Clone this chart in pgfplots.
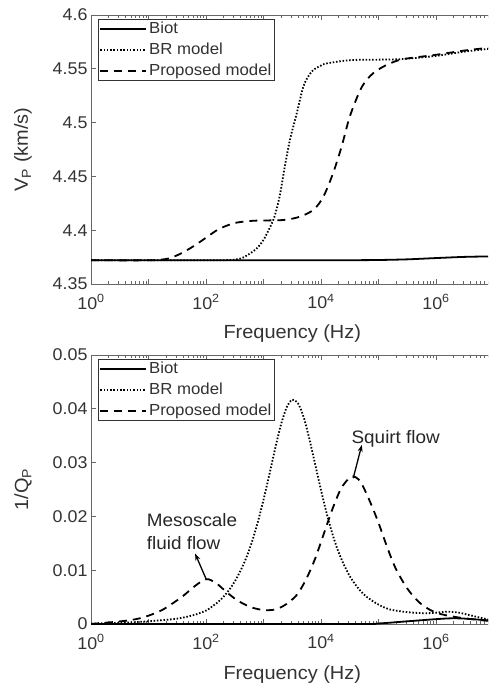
\documentclass[border=0pt]{standalone}
\usepackage{fontspec}
\setmainfont{Liberation Sans}[FakeStretch=1.05]
\usepackage{pgfplots}
\usepackage{pgfplotstable}
\pgfplotsset{compat=1.18}
\usetikzlibrary{arrows.meta}
\definecolor{txt}{gray}{0.2}
\definecolor{axc}{gray}{0.4}

% ---- Panel (a): V_P ----
\pgfplotstableread{
lf v
0 4.372
2 4.372
3 4.372
4 4.372
4.5 4.3721
5 4.3723
5.5 4.3729
6 4.3741
6.5 4.3752
7 4.3757
}\biotA
\pgfplotstableread{
lf v
0 4.372
1.5 4.372
2.3 4.3721
2.59 4.3735
2.77 4.3785
2.9 4.384
3.0 4.391
3.08 4.399
3.17 4.4095
3.23 4.420
3.29 4.434
3.37 4.459
3.46 4.484
3.58 4.509
3.69 4.533
3.78 4.543
3.87 4.549
4.0 4.553
4.1 4.555
4.5 4.558
5.0 4.5585
5.4 4.559
6.0 4.562
6.5 4.566
7.0 4.569
}\brA
\pgfplotstableread{
lf v
0 4.372
1.0 4.372
1.2 4.3725
1.37 4.374
1.55 4.378
1.78 4.385
2.0 4.393
2.19 4.400
2.35 4.404
2.53 4.407
2.75 4.4085
2.94 4.409
3.35 4.4095
3.63 4.4125
3.87 4.419
4.04 4.431
4.21 4.453
4.36 4.478
4.50 4.5055
4.68 4.530
4.80 4.540
4.91 4.546
5.05 4.551
5.2 4.555
5.43 4.559
6.0 4.563
6.5 4.567
7.0 4.570
}\propA

% ---- Panel (b): 1/Q_P ----
\pgfplotstableread{
lf v
0 0
4.5 0
5.0 0.0001
5.5 0.0005
6.0 0.0009
6.25 0.00105
6.5 0.0010
7.0 0.0006
}\biotB
\pgfplotstableread{
lf v
0 0.0001
0.5 0.0002
1.0 0.0005
1.5 0.0010
1.8 0.0017
2.0 0.0025
2.1 0.0032
2.2 0.0040
2.3 0.0050
2.4 0.0063
2.5 0.0079
2.6 0.0099
2.7 0.0123
2.8 0.0153
2.9 0.0189
3.0 0.0231
3.1 0.0277
3.2 0.0325
3.3 0.0369
3.4 0.0402
3.5 0.0417
3.6 0.0410
3.7 0.0384
3.8 0.0343
3.9 0.0296
4.0 0.0249
4.1 0.0205
4.2 0.0167
4.3 0.0135
4.4 0.0110
4.5 0.0089
4.6 0.0073
4.7 0.0060
4.8 0.0050
5.0 0.0036
5.2 0.0027
5.5 0.0022
5.8 0.0020
6.0 0.0021
6.2 0.0023
6.4 0.0021
6.6 0.0016
6.8 0.0011
7.0 0.0006
}\brB
\pgfplotstableread{
lf v
0 0
0.6 0.0006
0.9 0.0012
1.2 0.0024
1.4 0.0037
1.6 0.0052
1.8 0.0070
1.95 0.0081
2.05 0.0083
2.2 0.0074
2.35 0.0060
2.53 0.0045
2.7 0.0035
2.85 0.0029
3.0 0.0026
3.15 0.0026
3.3 0.0031
3.45 0.0041
3.6 0.0057
3.75 0.0085
3.9 0.0122
4.05 0.0168
4.2 0.0214
4.35 0.0252
4.5 0.0272
4.6 0.0273
4.7 0.0262
4.85 0.0228
5.0 0.0188
5.15 0.0143
5.3 0.0103
5.5 0.0066
5.7 0.0041
5.9 0.0026
6.1 0.0018
6.4 0.0012
6.7 0.0008
7.0 0.0005
}\propB

\tikzset{
  biot/.style={black, line width=1.8pt, solid},
  br/.style={black, line width=1.8pt, dash pattern=on 1.5pt off 1.8pt},
  prop/.style={black, line width=1.8pt, dash pattern=on 8pt off 6pt},
}
\pgfplotsset{
  legend image code/.code={\draw[#1] (0pt,0pt) -- (46pt,0pt);},
  tick align=inside,
  major tick length=5pt, minor tick length=3pt,
  every tick/.style={axc, line width=0.6pt},
  axis line style={axc, line width=0.8pt},
  ticklabel style={font=\fontsize{17}{20}\selectfont, text=txt},
  xticklabel shift=7pt,
  scaled y ticks=false,
  label style={font=\fontsize{19}{22}\selectfont, text=txt},
  xlabel style={at={(axis description cs:0.5,0)}, anchor=base, yshift=-55pt},
  ylabel style={at={(axis description cs:-0.169,0.5)}, anchor=center},
  legend style={at={(axis description cs:0.0174,0.986)}, anchor=north west,
    draw=black!80, line width=0.6pt, fill=white,
    font=\fontsize{16}{19}\selectfont, text=txt,
    inner sep=1pt, row sep=4pt,
    nodes={inner sep=2pt}},
  legend cell align=left,
}

\begin{document}
\begin{tikzpicture}
\useasboundingbox (0,0) rectangle (488pt,687pt);
\clip (0,0) rectangle (488pt,687pt);

% Panel (a)
\begin{axis}[
  scale only axis, width=402.5pt, height=269pt,
  at={(91pt,403pt)}, anchor=south west,
  xmode=log, xmin=1, xmax=1e7,
  xtick={1,10,100,1000,1e4,1e5,1e6,1e7},
  xticklabels={10\textsuperscript{0},,10\textsuperscript{2},,10\textsuperscript{4},,10\textsuperscript{6},},
  minor xtick={2,3,4,5,6,7,8,9,20,30,40,50,60,70,80,90,200,300,400,500,600,700,800,900,2000,3000,4000,5000,6000,7000,8000,9000,2e4,3e4,4e4,5e4,6e4,7e4,8e4,9e4,2e5,3e5,4e5,5e5,6e5,7e5,8e5,9e5,2e6,3e6,4e6,5e6,6e6,7e6,8e6,9e6},
  ymin=4.35, ymax=4.6,
  ytick={4.35,4.4,4.45,4.5,4.55,4.6},
  yticklabels={4.35,4.4,4.45,4.5,4.55,4.6},
  xlabel={Frequency (Hz)},
  ylabel={V\textsubscript{P} (km/s)},
]
\addplot[biot, smooth] table[x expr=10^\thisrow{lf}, y=v] {\biotA};
\addlegendentry{Biot}
\addplot[br, smooth] table[x expr=10^\thisrow{lf}, y=v] {\brA};
\addlegendentry{BR model}
\addplot[prop, smooth] table[x expr=10^\thisrow{lf}, y=v] {\propA};
\addlegendentry{Proposed model}
\node[font=\fontsize{17}{20}\selectfont, text=txt, anchor=center] at (axis description cs:-0.171,0.982) {(a)};
\end{axis}

% Panel (b)
\begin{axis}[
  scale only axis, width=402.5pt, height=269pt,
  at={(91pt,63pt)}, anchor=south west,
  xmode=log, xmin=1, xmax=1e7,
  xtick={1,10,100,1000,1e4,1e5,1e6,1e7},
  xticklabels={10\textsuperscript{0},,10\textsuperscript{2},,10\textsuperscript{4},,10\textsuperscript{6},},
  minor xtick={2,3,4,5,6,7,8,9,20,30,40,50,60,70,80,90,200,300,400,500,600,700,800,900,2000,3000,4000,5000,6000,7000,8000,9000,2e4,3e4,4e4,5e4,6e4,7e4,8e4,9e4,2e5,3e5,4e5,5e5,6e5,7e5,8e5,9e5,2e6,3e6,4e6,5e6,6e6,7e6,8e6,9e6},
  ymin=0, ymax=0.05,
  ytick={0,0.01,0.02,0.03,0.04,0.05},
  yticklabels={0,0.01,0.02,0.03,0.04,0.05},
  xlabel={Frequency (Hz)},
  ylabel={1/Q\textsubscript{P}},
]
\addplot[biot, smooth] table[x expr=10^\thisrow{lf}, y=v] {\biotB};
\addlegendentry{Biot}
\addplot[br, smooth] table[x expr=10^\thisrow{lf}, y=v] {\brB};
\addlegendentry{BR model}
\addplot[prop, smooth] table[x expr=10^\thisrow{lf}, y=v] {\propB};
\addlegendentry{Proposed model}
\node[font=\fontsize{17}{20}\selectfont, text=txt, anchor=center] at (axis description cs:-0.171,0.982) {(b)};
% annotations
\node[font=\fontsize{18}{21}\selectfont, text=black!85, anchor=base] at (axis cs:199526,0.0336) {Squirt flow};
\draw[-{Stealth[length=7pt,width=5pt]}, line width=1.3pt, black] (axis cs:36308,0.0271) -- (axis cs:51286,0.0333);
\node[font=\fontsize{18}{21}\selectfont, text=black!85, anchor=base west, inner sep=0pt] at (axis cs:9.29,0.01809) {Mesoscale};
\node[font=\fontsize{18}{21}\selectfont, text=black!85, anchor=base west, inner sep=0pt] at (axis cs:9.29,0.01376) {fluid flow};
\draw[-{Stealth[length=7pt,width=5pt]}, line width=1.3pt, black] (axis cs:102,0.0082) -- (axis cs:64.6,0.0131);
\end{axis}
\end{tikzpicture}
\end{document}
